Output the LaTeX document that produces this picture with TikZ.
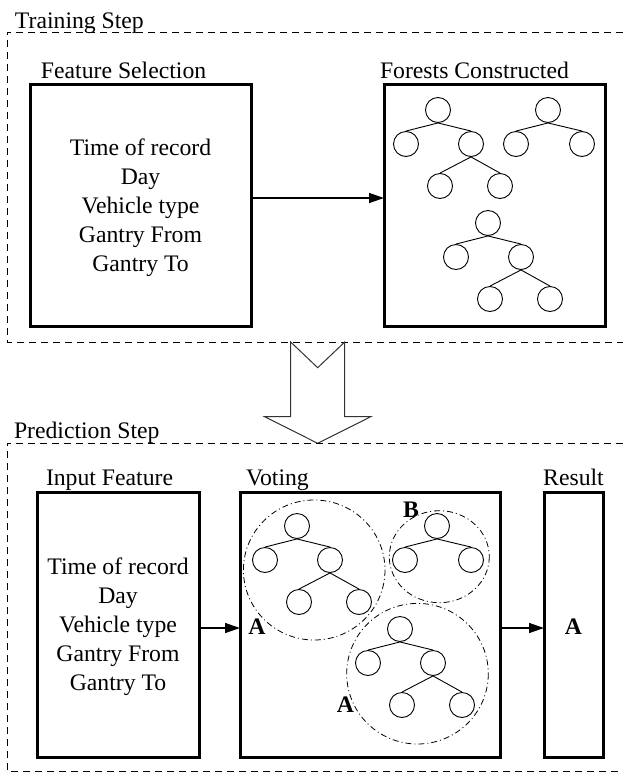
\documentclass[tikz,border=0pt]{standalone}
\usepackage{fontspec}
\setmainfont{Liberation Serif}
\usetikzlibrary{arrows.meta}

\tikzset{
  txt/.style={font=\fontsize{23.7}{29}\selectfont, inner sep=0pt, outer sep=0pt},
  boldtxt/.style={txt, font=\fontsize{23.7}{29}\selectfont\bfseries},
  listtxt/.style={txt, align=center},
  panel/.style={draw, line width=3pt, inner sep=0pt, outer sep=0pt},
  frame/.style={line width=0.8pt, dash pattern=on 7pt off 5pt},
  group/.style={line width=0.8pt, dash pattern=on 6pt off 3pt on 1pt off 3pt},
  flow/.style={line width=1.4pt, -{Triangle[length=15pt,width=10pt]}},
  leaf/.style={circle, draw, line width=0.9pt, minimum size=25pt, inner sep=0pt},
  edge/.style={line width=0.9pt},
  bigarrow/.style={draw=black!80, fill=white, line width=1pt, line join=miter},
  pics/deeptree/.style={code={
    \node[leaf] (-r) at (0,0) {};
    \node[leaf] (-a) at (-32,34) {};
    \node[leaf] (-b) at (33,34) {};
    \node[leaf] (-c) at (2,76) {};
    \node[leaf] (-d) at (62,76) {};
    \draw[edge] (-r.south) -- (-a.north);
    \draw[edge] (-r.south) -- (-b.north);
    \draw[edge] (-b.south) -- (-c.north);
    \draw[edge] (-b.south) -- (-d.north);
  }},
  pics/flattree/.style={code={
    \node[leaf] (-r) at (0,0) {};
    \node[leaf] (-a) at (-32,34) {};
    \node[leaf] (-b) at (34,34) {};
    \draw[edge] (-r.south) -- (-a.north);
    \draw[edge] (-r.south) -- (-b.north);
  }},
}

\begin{document}
\begin{tikzpicture}[x=1pt,y=-1pt]
\useasboundingbox (0,0) rectangle (623,772);

% ---------- training step ----------
\draw[frame] (623,32) -- (7,32) -- (7,342) -- (623,342);
\node[txt, anchor=base west] (traintitle) at (15,28) {Training Step};

\node[panel, minimum width=221pt, minimum height=242pt] (fs) at (140.5,205) {};
\node[txt, anchor=base west] (fslabel) at (41,78) {Feature Selection};
\node[listtxt] (fslist) at ([yshift=-2.5pt]fs.center)
  {Time of record\\Day\\Vehicle type\\Gantry From\\Gantry To};

\node[panel, minimum width=221pt, minimum height=242pt] (fc) at (494.5,205) {};
\node[txt, anchor=base west] (fclabel) at (380,78) {Forests Constructed};

\pic (ft1) at (438,110) {deeptree};
\pic (ft2) at (548,110) {flattree};
\pic (ft3) at (488,223) {deeptree};

\draw[flow] ([yshift=7pt]fs.east) -- ([yshift=7pt]fc.west);

% ---------- hollow arrow between the steps ----------
\draw[bigarrow] (290.7,342) -- (317.7,367.7) -- (344.7,342) -- (344.7,416.7)
  -- (370.7,416.7) -- (317.7,443.3) -- (264.7,416.7) -- (290.7,416.7) -- cycle;

% ---------- prediction step ----------
\draw[frame] (623,443) -- (7,443) -- (7,771) -- (623,771);
\node[txt, anchor=base west] (predtitle) at (14,438) {Prediction Step};

\node[panel, minimum width=162pt, minimum height=264.5pt] (inp) at (118,624.75) {};
\node[txt, anchor=base west] (inplabel) at (46,485.5) {Input Feature};
\node[listtxt] (inplist) at ([yshift=-2pt]inp.center)
  {Time of record\\Day\\Vehicle type\\Gantry From\\Gantry To};

\node[panel, minimum width=260pt, minimum height=264.5pt] (vote) at (370,624.75) {};
\node[txt, anchor=base west] (votelabel) at (246,485.5) {Voting};

\node[panel, minimum width=59pt, minimum height=264.5pt] (res) at (573.5,624.75) {};
\node[txt, anchor=base] (reslabel) at (573.5,485.5) {Result};
\node[boldtxt] (resval) at ([yshift=-2pt]res.center) {A};

% voting groups
\draw[group] (314.2,570) ellipse [x radius=70.8, y radius=70];
\draw[group] (439.3,556.7) ellipse [x radius=50, y radius=46];
\draw[group] (417.5,673.7) ellipse [x radius=70.8, y radius=70.3];

\pic (vt1) at (297,526) {deeptree};
\pic (vt2) at (437,526) {flattree};
\pic (vt3) at (400,629) {deeptree};

\node[boldtxt] (votea1) at (257,627) {A};
\node[boldtxt] (voteb) at (411,510) {B};
\node[boldtxt] (votea2) at (345.5,705) {A};

\draw[flow] ([yshift=-3.25pt]inp.east) -- ([yshift=-3.25pt]vote.west);
\draw[flow] ([yshift=-3.25pt]vote.east) -- ([yshift=-3.25pt]res.west);
\end{tikzpicture}
\end{document}
